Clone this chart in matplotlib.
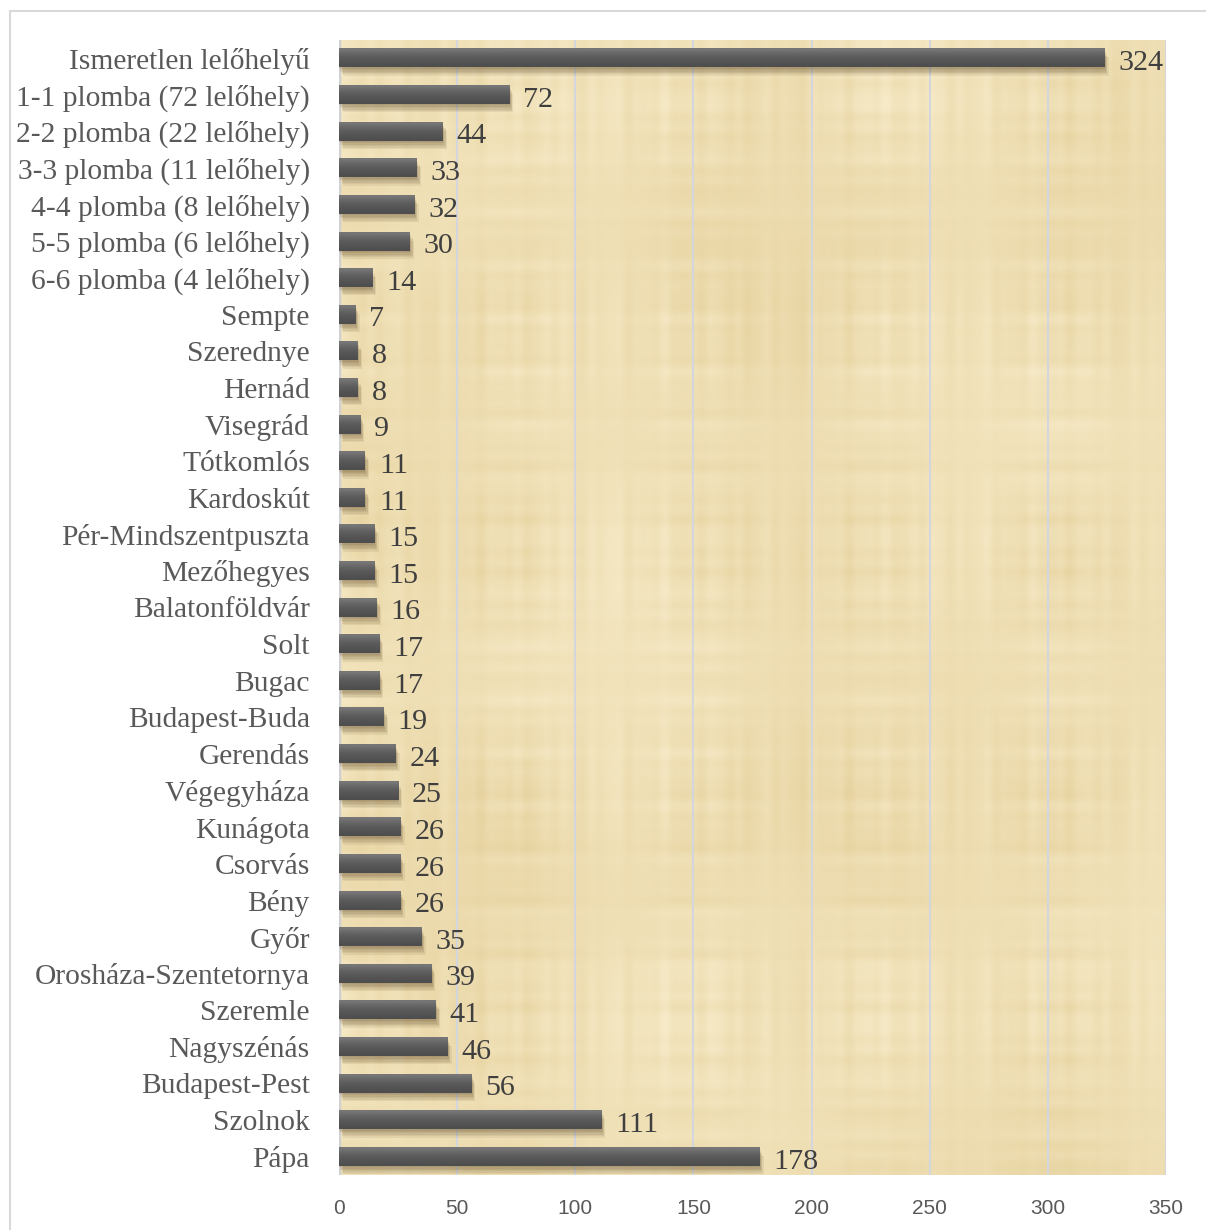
import numpy as np
import matplotlib
matplotlib.use("Agg")
import matplotlib.pyplot as plt
import matplotlib.patheffects as pe
from matplotlib.patches import Rectangle

categories = [
    "Ismeretlen lelőhelyű",
    "1-1 plomba (72 lelőhely)",
    "2-2 plomba (22 lelőhely)",
    "3-3 plomba (11 lelőhely)",
    "4-4 plomba (8 lelőhely)",
    "5-5 plomba (6 lelőhely)",
    "6-6 plomba (4 lelőhely)",
    "Sempte",
    "Szerednye",
    "Hernád",
    "Visegrád",
    "Tótkomlós",
    "Kardoskút",
    "Pér-Mindszentpuszta",
    "Mezőhegyes",
    "Balatonföldvár",
    "Solt",
    "Bugac",
    "Budapest-Buda",
    "Gerendás",
    "Végegyháza",
    "Kunágota",
    "Csorvás",
    "Bény",
    "Győr",
    "Orosháza-Szentetornya",
    "Szeremle",
    "Nagyszénás",
    "Budapest-Pest",
    "Szolnok",
    "Pápa",
]
values = [324, 72, 44, 33, 32, 30, 14, 7, 8, 8, 9, 11, 11, 15, 15, 16, 17, 17,
          19, 24, 25, 26, 26, 26, 35, 39, 41, 46, 56, 111, 178]
xticks = [0, 50, 100, 150, 200, 250, 300, 350]

SERIF = "Liberation Serif"
W, H = 1206, 1230
fig = plt.figure(figsize=(W / 100, H / 100), dpi=100)
fig.patch.set_facecolor("white")

# fit category font size to the reference label width
renderer = fig.canvas.get_renderer()
probe = fig.text(0, 0, "Orosháza-Szentetornya", family=SERIF, fontsize=20)
wpx = probe.get_window_extent(renderer).width
probe.remove()
cat_fs = 20 * 275.0 / wpx

# outer border
fig.patches.append(Rectangle((10 / W, -0.1), 1.2, 1 - 11 / H + 0.1,
                             transform=fig.transFigure, fill=False,
                             edgecolor="#d9d9d9", linewidth=1.5))

left, right, top, bottom = 339, 1166, 40, 1175
ax = fig.add_axes([left / W, 1 - bottom / H, (right - left) / W, (bottom - top) / H])

n = len(categories)
ypos = np.arange(n)

# parchment-like background (deterministic fibre pattern)
gx = np.linspace(0, 1, 600)
gy = np.linspace(0, 1, 800)
X, Y = np.meshgrid(gx, gy)
fx = (np.sin(X * 211) * 0.35 + np.sin(X * 97 + 1.3) * 0.3 + np.sin(X * 353 + 0.7) * 0.2
      + np.sin(X * 17 + 2.1) * 0.4)
fy = (np.sin(Y * 263) * 0.3 + np.sin(Y * 131 + 0.4) * 0.3 + np.sin(Y * 409 + 1.9) * 0.2
      + np.sin(Y * 23 + 0.9) * 0.35)
blot = np.sin(X * 7 + Y * 5) * np.cos(Y * 9 - X * 4) * 0.6
tex = fx * (0.6 + 0.4 * np.sin(Y * 31)) + fy * (0.6 + 0.4 * np.cos(X * 29)) + blot
tex = (tex - tex.min()) / (tex.max() - tex.min())
c1 = np.array([231, 211, 160]) / 255
c2 = np.array([247, 235, 201]) / 255
img = c1[None, None, :] * (1 - tex[..., None]) + c2[None, None, :] * tex[..., None]
ax.imshow(img, extent=[0, 350, n - 0.5, -0.5], aspect="auto", zorder=0,
          interpolation="bilinear")

for xv in xticks[1:]:
    ax.axvline(xv, color="#d3d6dc", linewidth=1.5, zorder=1)
ax.axvline(0, color="#d0d0d0", linewidth=2.5, zorder=1)

bh = 0.5
shadow_fx = [pe.SimplePatchShadow(offset=(ox, oy), shadow_rgbFace="#5a4525", alpha=0.09)
             for ox, oy in [(0, -1), (1, -2), (1, -3), (2, -4), (2, -5), (3, -6)]]
bars = ax.barh(ypos, values, height=bh, facecolor="none", edgecolor="none", zorder=2)
for b in bars:
    b.set_path_effects(shadow_fx)

grad = np.array([[0x76, 0x76, 0x76], [0x6a, 0x6a, 0x6a], [0x5f, 0x5f, 0x5f],
                 [0x58, 0x58, 0x58], [0x53, 0x53, 0x53], [0x4e, 0x4e, 0x4e]]) / 255.0
grad = grad[:, None, :]
for b in bars:
    x0 = b.get_x()
    x1 = x0 + b.get_width()
    y0 = b.get_y()
    y1 = y0 + b.get_height()
    ax.imshow(grad, extent=[x0, x1, y1, y0], aspect="auto", zorder=3,
              interpolation="bilinear")

for y, v in zip(ypos, values):
    ax.annotate(str(v), xy=(v, y), xytext=(10, -3.5), textcoords="offset points",
                va="center", ha="left", fontsize=cat_fs + 0.3, color="#3f3f3f",
                family=SERIF, zorder=4)

ax.set_xlim(0, 350)
ax.set_ylim(n - 0.5, -0.5)

ax.set_yticks(ypos)
ax.set_yticklabels(categories, family=SERIF, fontsize=cat_fs, color="#595959")
ax.set_xticks(xticks)
ax.set_xticklabels([str(t) for t in xticks], family="Liberation Sans", fontsize=15,
                   color="#595959")
ax.tick_params(axis="both", length=0)
ax.tick_params(axis="y", pad=21)
ax.tick_params(axis="x", pad=17)
for s in ax.spines.values():
    s.set_visible(False)

fig.savefig("out.png", dpi=100)
